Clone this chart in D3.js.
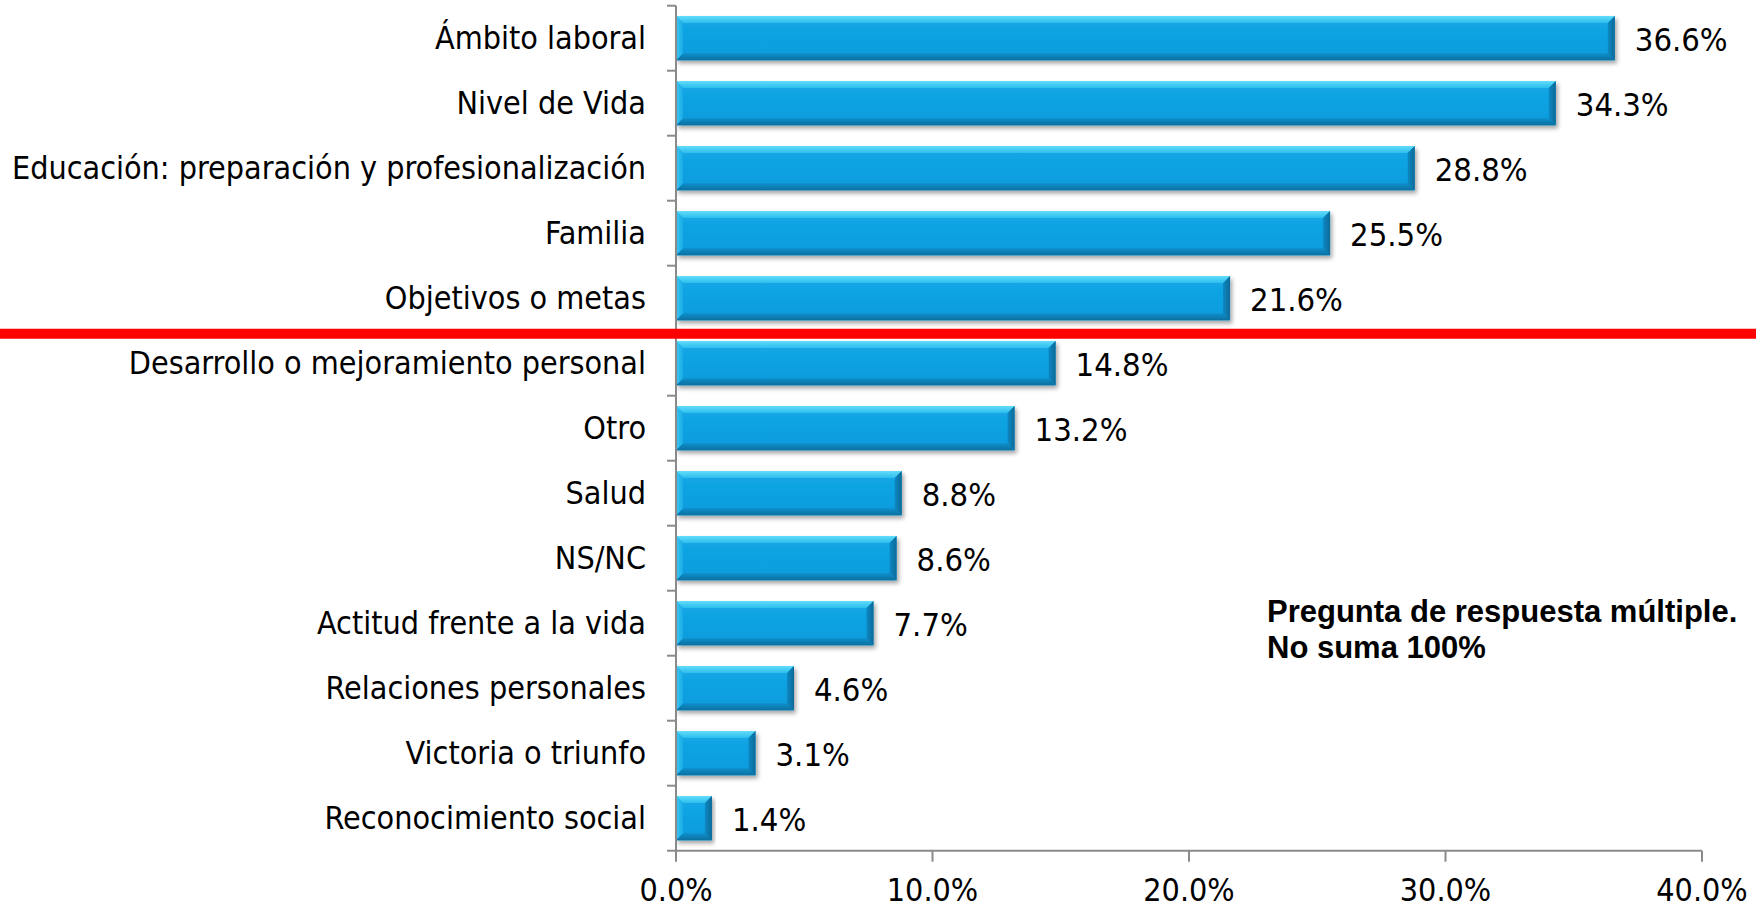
<!DOCTYPE html>
<html>
<head>
<meta charset="utf-8">
<script src="https://cdn.jsdelivr.net/npm/d3@7"></script>
<style>
  body { margin: 0; background: #ffffff; }
  svg { display: block; }
</style>
</head>
<body>
<svg id="chart" width="1756" height="910"></svg>
<script>
// Motivos mencionados (respuesta múltiple), porcentaje de menciones
const categories = [
  "Ámbito laboral",
  "Nivel de Vida",
  "Educación: preparación y profesionalización",
  "Familia",
  "Objetivos o metas",
  "Desarrollo o mejoramiento personal",
  "Otro",
  "Salud",
  "NS/NC",
  "Actitud frente a la vida",
  "Relaciones personales",
  "Victoria o triunfo",
  "Reconocimiento social"
];
const values = [36.6, 34.3, 28.8, 25.5, 21.6, 14.8, 13.2, 8.8, 8.6, 7.7, 4.6, 3.1, 1.4];
const xTicks = [0, 10, 20, 30, 40];
const noteLines = ["Pregunta de respuesta múltiple.", "No suma 100%"];
// the red divider goes below this category
const cutoffCategory = "Objetivos o metas";

const svg = d3.select("#chart");
const W = 1756;
const margin = { left: 676, right: 54, top: 5.7, bottom: 59.3 };
const plotBottom = 910 - margin.bottom;

const x = d3.scaleLinear().domain([0, 40]).range([margin.left, W - margin.right]);
const y = d3.scaleBand().domain(categories).range([margin.top, plotBottom])
  .paddingInner(0.32).paddingOuter(0.16);

const labelFont = "'DejaVu Sans Condensed', 'DejaVu Sans', sans-serif";
const axisColor = "#8a8a8a";

// defs: gradients and shadow for the bevelled bars
const defs = svg.append("defs");
const sh = defs.append("filter").attr("id", "shadow")
  .attr("x", "-5%").attr("y", "-20%").attr("width", "115%").attr("height", "160%");
sh.append("feDropShadow").attr("dx", 2).attr("dy", 3).attr("stdDeviation", 2)
  .attr("flood-color", "#000").attr("flood-opacity", 0.35);

function vgrad(id, stops) {
  const g = defs.append("linearGradient").attr("id", id)
    .attr("x1", 0).attr("y1", 0).attr("x2", 0).attr("y2", 1);
  stops.forEach(s => g.append("stop").attr("offset", s[0]).attr("stop-color", s[1]));
}
function hgrad(id, stops) {
  const g = defs.append("linearGradient").attr("id", id)
    .attr("x1", 0).attr("y1", 0).attr("x2", 1).attr("y2", 0);
  stops.forEach(s => g.append("stop").attr("offset", s[0]).attr("stop-color", s[1]));
}
vgrad("bodyGrad", [[0, "#14a8e6"], [0.5, "#0fa1e2"], [1, "#0d9bdc"]]);
vgrad("topBevel", [[0, "#62dcfa"], [1, "#2bbdee"]]);
vgrad("bottomBevel", [[0, "#0c8fcb"], [1, "#0a6f9f"]]);
hgrad("leftBevel", [[0, "#3cc6f2"], [1, "#18abe6"]]);
hgrad("rightBevel", [[0, "#0b88c2"], [1, "#0a6a98"]]);

// bars
const bevel = 7;
const bars = svg.append("g").selectAll("g.bar")
  .data(categories.map((c, i) => ({ c, v: values[i] })))
  .join("g").attr("class", "bar").attr("filter", "url(#shadow)");

bars.each(function (d) {
  const g = d3.select(this);
  const x0 = x(0), x1 = x(d.v), y0 = y(d.c), y1 = y(d.c) + y.bandwidth();
  const b = Math.min(bevel, (x1 - x0) / 2);
  g.append("rect").attr("x", x0).attr("y", y0).attr("width", x1 - x0).attr("height", y1 - y0)
    .attr("fill", "url(#bodyGrad)");
  const poly = (pts, fill) => g.append("polygon")
    .attr("points", pts.map(p => p.join(",")).join(" ")).attr("fill", fill);
  poly([[x0, y0], [x1, y0], [x1 - b, y0 + b], [x0 + b, y0 + b]], "url(#topBevel)");
  poly([[x0, y1], [x1, y1], [x1 - b, y1 - b], [x0 + b, y1 - b]], "url(#bottomBevel)");
  poly([[x0, y0], [x0 + b, y0 + b], [x0 + b, y1 - b], [x0, y1]], "url(#leftBevel)");
  poly([[x1, y0], [x1 - b, y0 + b], [x1 - b, y1 - b], [x1, y1]], "url(#rightBevel)");
});

// value labels
svg.append("g").selectAll("text")
  .data(categories.map((c, i) => ({ c, v: values[i] })))
  .join("text")
  .attr("x", d => x(d.v) + 20)
  .attr("y", d => y(d.c) + y.bandwidth() / 2 + 13)
  .attr("font-family", labelFont)
  .attr("font-size", 32.5)
  .attr("fill", "#000")
  .text(d => d.v.toFixed(1) + "%");

// y axis (categories)
const yAxis = svg.append("g");
yAxis.append("line")
  .attr("x1", x(0)).attr("x2", x(0))
  .attr("y1", margin.top).attr("y2", plotBottom)
  .attr("stroke", axisColor).attr("stroke-width", 2);
const step = y.step();
const boundaries = d3.range(categories.length + 1).map(i => margin.top + i * step);
yAxis.selectAll("line.tick").data(boundaries).join("line").attr("class", "tick")
  .attr("x1", x(0) - 9).attr("x2", x(0))
  .attr("y1", d => d).attr("y2", d => d)
  .attr("stroke", axisColor).attr("stroke-width", 2);
yAxis.selectAll("text").data(categories).join("text")
  .attr("x", x(0) - 30)
  .attr("y", d => y(d) + y.bandwidth() / 2 + 11)
  .attr("text-anchor", "end")
  .attr("font-family", labelFont)
  .attr("font-size", 32)
  .attr("fill", "#000")
  .text(d => d);

// x axis (percent)
const xAxis = svg.append("g");
xAxis.append("line")
  .attr("x1", x(0)).attr("x2", x(40))
  .attr("y1", plotBottom).attr("y2", plotBottom)
  .attr("stroke", axisColor).attr("stroke-width", 2);
xAxis.selectAll("line.tick").data(xTicks).join("line").attr("class", "tick")
  .attr("x1", d => x(d)).attr("x2", d => x(d))
  .attr("y1", plotBottom).attr("y2", plotBottom + 11)
  .attr("stroke", axisColor).attr("stroke-width", 2);
xAxis.selectAll("text").data(xTicks).join("text")
  .attr("x", d => x(d))
  .attr("y", plotBottom + 50)
  .attr("text-anchor", "middle")
  .attr("font-family", labelFont)
  .attr("font-size", 32)
  .attr("fill", "#000")
  .text(d => d.toFixed(1) + "%");

// red divider between the top five and the rest
const cutIdx = categories.indexOf(cutoffCategory);
svg.append("line")
  .attr("x1", 0).attr("x2", W)
  .attr("y1", boundaries[cutIdx + 1] + 3).attr("y2", boundaries[cutIdx + 1] + 3)
  .attr("stroke", "#ff0000").attr("stroke-width", 10);

// note
svg.append("g").selectAll("text").data(noteLines).join("text")
  .attr("x", 1267)
  .attr("y", (d, i) => 622 + i * 36)
  .attr("font-family", "'Liberation Sans', Arial, sans-serif")
  .attr("font-weight", "bold")
  .attr("font-size", 31)
  .attr("fill", "#000")
  .text(d => d);
</script>
</body>
</html>
